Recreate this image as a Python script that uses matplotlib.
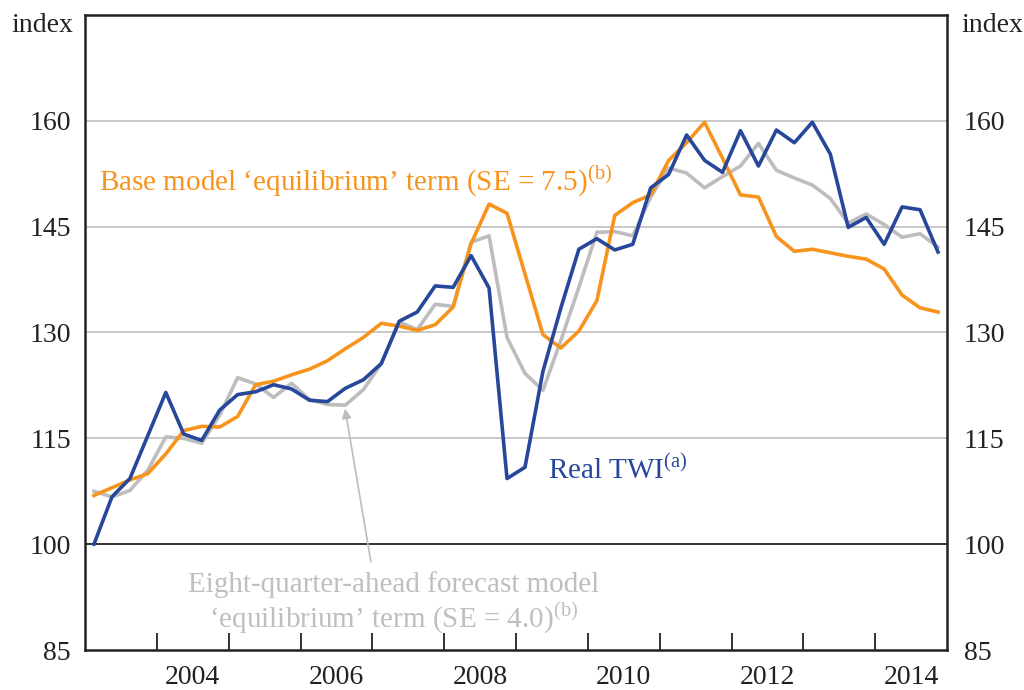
import matplotlib.pyplot as plt
import numpy as np

plt.rcParams['font.family'] = ['Liberation Serif', 'DejaVu Serif']
plt.rcParams['mathtext.fontset'] = 'custom'
plt.rcParams['mathtext.rm'] = 'Liberation Serif'

# quarterly, 2003 Q1 to 2014 Q4
quarters = 2003 + 0.125 + 0.25 * np.arange(48)

real_twi = [100.0, 106.7, 109.3, 115.4, 121.5, 115.6, 114.7, 119.0, 121.2, 121.6,
            122.6, 122.0, 120.4, 120.2, 122.1, 123.3, 125.6, 131.6, 132.9, 136.6,
            136.4, 140.9, 136.3, 109.3, 110.9, 124.5, 133.5, 141.8, 143.3, 141.7,
            142.5, 150.5, 152.4, 158.0, 154.4, 152.7, 158.6, 153.6, 158.7, 156.9,
            159.8, 155.3, 144.9, 146.3, 142.5, 147.8, 147.4, 141.4]

base_model = [106.9, 108.0, 109.1, 110.0, 112.8, 116.1, 116.7, 116.6, 118.1, 122.6,
              123.1, 124.0, 124.8, 126.0, 127.7, 129.3, 131.3, 130.9, 130.3, 131.1,
              133.6, 142.6, 148.2, 146.9, 138.3, 129.7, 127.8, 130.2, 134.5, 146.6,
              148.4, 149.5, 154.4, 156.9, 159.8, 154.7, 149.5, 149.2, 143.6, 141.5,
              141.8, 141.3, 140.8, 140.4, 139.0, 135.3, 133.5, 132.9]

forecast_model = [107.5, 106.7, 107.6, 110.5, 115.2, 115.0, 114.3, 118.3, 123.6, 122.7,
                  120.8, 122.8, 120.5, 119.8, 119.7, 121.9, 125.6, 131.5, 130.4, 134.0,
                  133.7, 142.8, 143.7, 129.3, 124.2, 121.8, 128.9, 136.4, 144.2, 144.3,
                  143.7, 149.2, 153.3, 152.6, 150.5, 152.1, 153.6, 156.8, 153.0, 151.9,
                  150.9, 149.0, 145.5, 146.8, 145.3, 143.5, 144.0, 142.1]

y_ticks = [85, 100, 115, 130, 145, 160]
year_ticks = list(range(2004, 2015))
year_labels = [2004, 2006, 2008, 2010, 2012, 2014]

BLUE = '#27479A'
ORANGE = '#F7941D'
GREY = '#BDBDBD'
GREY_TXT = '#BFBFBF'

fig = plt.figure(figsize=(10.24, 6.9), dpi=100)
ax = fig.add_axes([85 / 1024, 40 / 690, 862 / 1024, 635 / 690])

ax.set_xlim(2003, 2015)
ax.set_ylim(85, 175)

for v in [115, 130, 145, 160]:
    ax.axhline(v, color='#C4C4C4', lw=1.3, zorder=1)
ax.axhline(100, color='#222222', lw=1.3, zorder=1)

ax.plot(quarters, forecast_model, color=GREY, lw=2.6, zorder=3)
ax.plot(quarters, base_model, color=ORANGE, lw=2.6, zorder=4)
ax.plot(quarters, real_twi, color=BLUE, lw=2.6, zorder=5)

for s in ax.spines.values():
    s.set_linewidth(1.8)
    s.set_color('#222222')

ax.set_yticks(y_ticks)
ax.tick_params(axis='y', length=0, labelsize=20, pad=10, colors='#222222')
ax.set_xticks(year_ticks)
ax.set_xticklabels([])
ax.tick_params(axis='x', direction='in', length=12, width=1.3, colors='#222222')
for yr in year_labels:
    fig.text((85 + (yr + 0.5 - 2003) * 862 / 12) / 1024, 12 / 690, str(yr),
             ha='center', va='center', fontsize=20, color='#222222')

ax2 = ax.twinx()
ax2.set_ylim(ax.get_ylim())
ax2.set_yticks(y_ticks)
ax2.tick_params(axis='y', length=0, labelsize=20, pad=12, colors='#222222')
for s in ax2.spines.values():
    s.set_visible(False)

fig.text(42 / 1024, 1 - 25 / 690, 'index', ha='center', va='center', fontsize=20, color='#222222')
fig.text(992 / 1024, 1 - 25 / 690, 'index', ha='center', va='center', fontsize=20, color='#222222')

ax.text(2003.2, 151.4, r"Base model ‘equilibrium’ term (SE = 7.5)$^{\mathrm{(b)}}$",
        color=ORANGE, fontsize=21, ha='left', va='center')
ax.text(2009.45, 110.5, r"Real TWI$^{\mathrm{(a)}}$",
        color=BLUE, fontsize=21, ha='left', va='center')
ax.text(2007.3, 94.3, "Eight-quarter-ahead forecast model",
        color=GREY_TXT, fontsize=21, ha='center', va='center')
ax.text(2007.3, 89.5, r"‘equilibrium’ term (SE = 4.0)$^{\mathrm{(b)}}$",
        color=GREY_TXT, fontsize=21, ha='center', va='center')
ax.annotate('', xy=(2006.62, 119.2), xytext=(2006.98, 97.5),
            arrowprops=dict(arrowstyle='-|>', color=GREY, lw=1.2,
                            mutation_scale=14, shrinkA=0, shrinkB=0))

fig.savefig('out.png', dpi=100)
